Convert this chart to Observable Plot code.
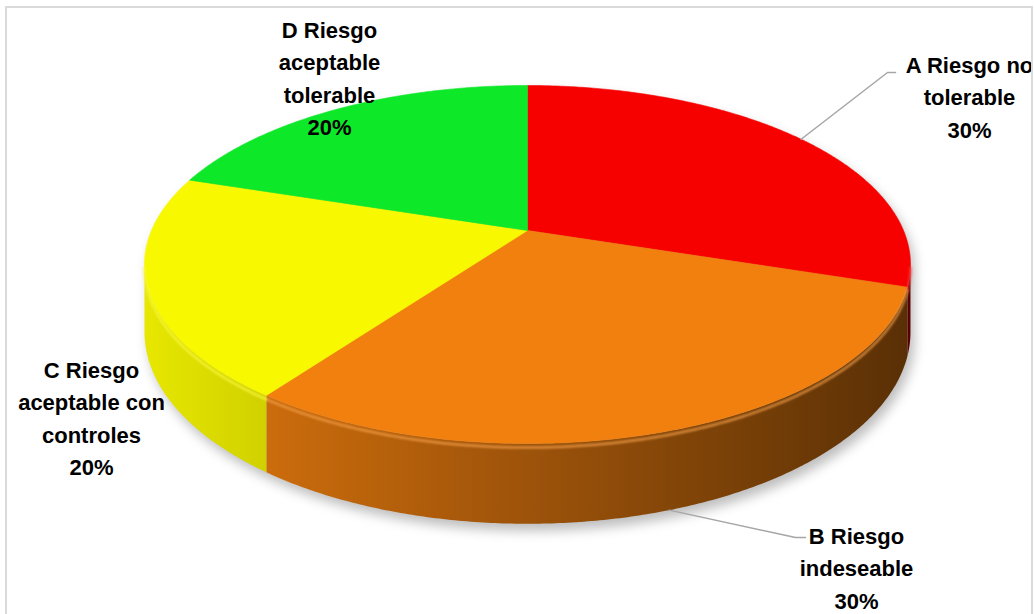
<!DOCTYPE html>
<html><head><meta charset="utf-8">
<script src="https://cdn.jsdelivr.net/npm/d3@7"></script>
<script src="https://cdn.jsdelivr.net/npm/@observablehq/plot@0.6"></script>
<style>
body{margin:0;background:#fff;}
#wrap{position:relative;width:1034px;height:614px;overflow:hidden;}
#border{position:absolute;left:5px;top:6px;width:1028px;height:700px;border:2px solid #dadada;box-sizing:border-box;pointer-events:none;}
</style></head><body>
<div id="wrap"><div id="chart"></div><div id="border"></div></div>
<script>
// ---- data ----
const categories = ["A", "B", "C", "D"];
const labelTexts = ["A Riesgo no\ntolerable", "B Riesgo\nindeseable", "C Riesgo\naceptable con\ncontroles", "D Riesgo\naceptable\ntolerable"];
const values = [30, 30, 20, 20];
const colors = ["#f70000", "#f2800f", "#f8f800", "#0de829"];

// ---- layout (not data) ----
const view = {cx: 527, a: 128.85, b: 230, c: -0.19, k: 376, d: 65};
const labelPos = [{x: 969, y: 50}, {x: 856, y: 521}, {x: 91, y: 355}, {x: 329, y: 15}];
const leaderEnds = [
  [[887, 72], [895, 72]],
  [[795, 537], [805, 537]],
  null, null
];
const leaderOnBottom = [false, true, false, false];

function proj(phi, r = 1, h = 0) {
  const X = r * Math.sin(phi), Y = -r * Math.cos(phi);
  const w = 1 + view.c * Y;
  return [view.cx + view.k * X / w, (view.a * Y + view.b + h * view.d) / w];
}
const total = d3.sum(values);
const TAU = 2 * Math.PI;
let cum = 0;
const slices = values.map((v, i) => {
  const p0 = cum / total * TAU; cum += v; const p1 = cum / total * TAU;
  return {i, cat: categories[i], p0, p1, mid: (p0 + p1) / 2, color: colors[i],
          text: labelTexts[i] + "\n" + Math.round(v / total * 100) + "%"};
});
const S1 = Math.acos(view.c), S2 = TAU - S1;
const xLeft = proj(S2)[0], xRight = proj(S1)[0];

function arc(p0, p1, r, h, step = Math.PI / 360) {
  const n = Math.max(2, Math.ceil((p1 - p0) / step));
  const out = [];
  for (let j = 0; j <= n; j++) out.push(proj(p0 + (p1 - p0) * j / n, r, h));
  return out;
}
function shade(col, t) {
  const f = 0.93 - t * 0.56;
  const c = d3.rgb(col);
  return d3.rgb(c.r * f, c.g * f, c.b * f).formatHex();
}

// top faces
const topRows = [];
for (const s of slices) {
  const apex = proj(0, 0, 0);
  [apex, ...arc(s.p0, s.p1, 1, 0), apex].forEach(([x, y]) => topRows.push({key: s.cat, x, y, fill: s.color}));
}
// side walls (one polygon per visible slice)
const sideMarks = [];
const sideSlices = [];
for (const s of slices) {
  const q0 = Math.max(s.p0, S1), q1 = Math.min(s.p1, S2);
  if (q1 <= q0) continue;
  const pts = [...arc(q0, q1, 1, 0), ...arc(q0, q1, 1, 1).reverse()];
  pts.push(pts[0]);
  const rows = pts.map(([x, y]) => ({x, y}));
  sideSlices.push(s);
  sideMarks.push(Plot.line(rows, {x: "x", y: "y", fill: `url(#side-${s.cat})`, stroke: "none", curve: "linear"}));
}
// rim highlight
const rimRows = [];
for (const s of slices) {
  const q0 = Math.max(s.p0, S1), q1 = Math.min(s.p1, S2);
  if (q1 <= q0) continue;
  const col = d3.interpolateRgb(s.color, "#ffffff")(0.25);
  arc(q0, q1, 1, 0.05).forEach(([x, y]) => rimRows.push({key: s.cat, x, y, stroke: col}));
}
// shadow outline
const shadowRows = [...arc(S2, S1 + TAU, 1, 0), ...arc(S1, S2, 1, 1)].map(([x, y]) => ({x, y}));

// leaders
const leaderRows = [];
slices.forEach((s, i) => {
  if (!leaderEnds[i]) return;
  const start = proj(s.mid, 1, leaderOnBottom[i] ? 1 : 0);
  [start, ...leaderEnds[i]].forEach(([x, y]) => leaderRows.push({key: s.cat, x, y}));
});
const labelRows = slices.map((s, i) => ({x: labelPos[i].x, y: labelPos[i].y, text: s.text}));

const chart = Plot.plot({
  width: 1034, height: 614, margin: 0,
  x: {domain: [0, 1034], range: [0, 1034], axis: null},
  y: {domain: [0, 614], range: [0, 614], axis: null},
  marks: [
    Plot.line(shadowRows, {x: "x", y: "y", fill: "#000", fillOpacity: 0.26, stroke: "none", dx: 4, dy: 7, ariaDescription: "shadow"}),
    ...sideMarks,
    Plot.line(topRows, {x: "x", y: "y", z: "key", fill: "fill", stroke: "fill", strokeWidth: 0.6, curve: "linear"}),
    Plot.line(rimRows, {x: "x", y: "y", z: "key", stroke: "stroke", strokeWidth: 2.5, strokeOpacity: 0.75, fill: "none", ariaDescription: "rim"}),
    Plot.line(leaderRows, {x: "x", y: "y", z: "key", stroke: "#a6a6a6", strokeWidth: 1.5, fill: "none"}),
    Plot.text(labelRows, {x: "x", y: "y", text: "text", fontSize: 22, fontWeight: "bold",
      fontFamily: "Liberation Sans, Arial, sans-serif", lineAnchor: "top", lineHeight: 1.46,
      textAnchor: "middle", fill: "#000"})
  ]
});
const defs = d3.select(chart).insert("defs", ":first-child");
for (const s of sideSlices) {
  const g = defs.append("linearGradient").attr("id", `side-${s.cat}`)
    .attr("gradientUnits", "userSpaceOnUse").attr("x1", xLeft).attr("x2", xRight).attr("y1", 0).attr("y2", 0);
  d3.range(0, 1.0001, 0.1).forEach(t => g.append("stop").attr("offset", t).attr("stop-color", shade(s.color, t)));
}
d3.select(chart).select('[aria-description="shadow"]').style("filter", "blur(6px)");
d3.select(chart).select('[aria-description="rim"]').style("filter", "blur(0.8px)");
document.getElementById("chart").appendChild(chart);
</script>
</body></html>
